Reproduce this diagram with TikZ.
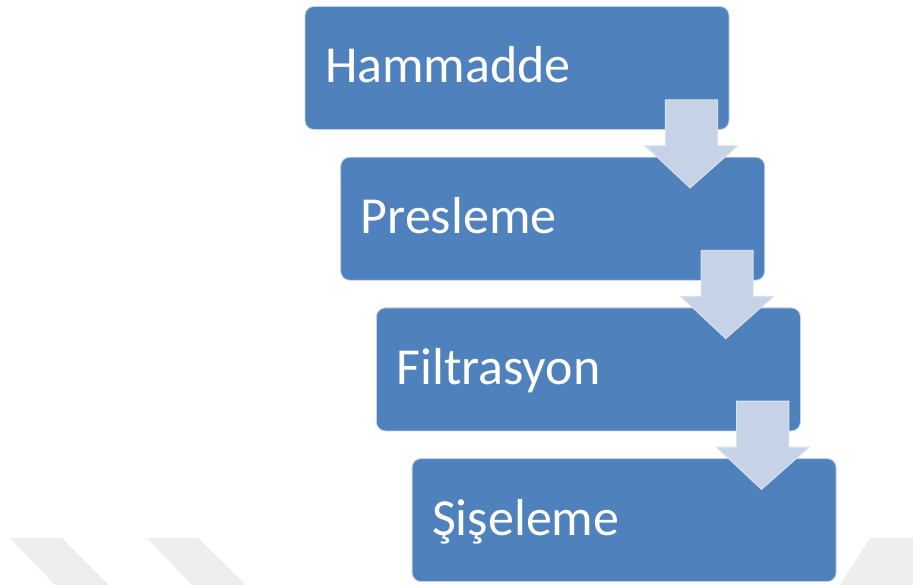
\documentclass[tikz,border=0pt]{standalone}
\usepackage{fontspec}
\setmainfont{Carlito}
\usetikzlibrary{calc}

\definecolor{stepblue}{HTML}{4F81BD}
\definecolor{arrowfill}{HTML}{C6D2E5}
\definecolor{arrowedge}{HTML}{D6DFEC}
\definecolor{stripegray}{HTML}{EEEEEE}

\begin{document}
\begin{tikzpicture}[x = 1pt, y = -1pt,
	stepbox/.style = {rectangle, rounded corners = 9pt, fill = stepblue,
		draw = stepblue!35!white, line width = 0.8pt, text = white,
		font = \fontsize{52}{60}\selectfont, text width = 384pt, align = left,
		inner xsep = 20pt, inner ysep = 0pt, minimum height = 123pt,
		text height = 40pt, text depth = 10pt},
	flowarrow/.style = {fill = arrowfill, draw = arrowedge, line width = 1.2pt}]

	% Definitions

	\def\dx{35.7}		% Shift of each step to the right
	\def\dy{150.7}		% Shift of each step downwards

	\useasboundingbox (0, 0) rectangle (913, 585);

	% Faint stripes at the bottom

	\fill [stripegray] (10, 538) -- (62, 538) -- (109, 585) -- (55, 585) -- cycle;
	\fill [stripegray] (147, 538) -- (198, 538) -- (246, 585) -- (192, 585) -- cycle;
	\fill [stripegray] (870, 538) -- (913, 538) -- (913, 585) -- (840, 585) -- cycle;

	% Steps

	\foreach \name/\text [count = \i from 0] in
		{hammadde/Hammadde, presleme/Presleme, filtrasyon/Filtrasyon, siseleme/Şişeleme}
		\node [stepbox] (\name) at (517 + \i * \dx, 68 + \i * \dy) {\text};

	% Arrows between steps

	\foreach \a/\b in {hammadde/presleme, presleme/filtrasyon, filtrasyon/siseleme}
		\draw [flowarrow] ($(\a.south east) + (-64, -30)$) -- ($(\a.south east) + (-12, -30)$)
			-- ($(\a.south east) + (-12, 16)$) -- ($(\a.south east) + (8, 16)$)
			-- ($(\b.north east) + (-75, 31)$)
			-- ($(\a.south east) + (-84, 16)$) -- ($(\a.south east) + (-64, 16)$) -- cycle;

\end{tikzpicture}
\end{document}
